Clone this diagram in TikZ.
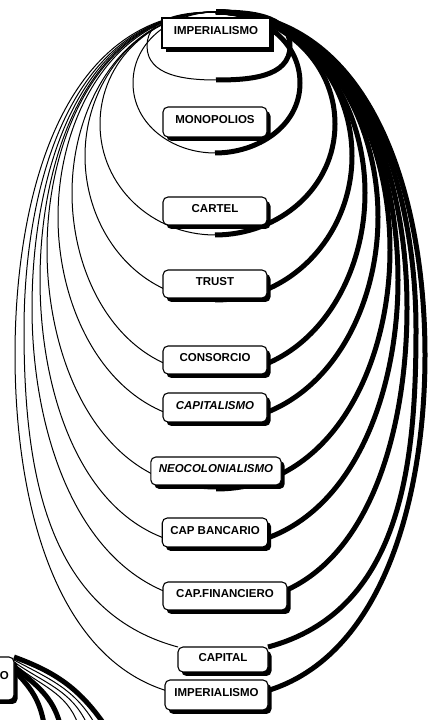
\documentclass[tikz,border=0pt]{standalone}
\usepackage{fontspec}
\setmainfont{Liberation Sans}
\usetikzlibrary{shapes.geometric, shadows, backgrounds, positioning}

\begin{document}
\begin{tikzpicture}[x=1pt, y=1pt,
    concept/.style={rectangle, draw, line width=1.1pt, rounded corners=5pt, fill=white, outer sep=0pt,
        font=\bfseries\fontsize{11.5}{12}\selectfont, minimum width=104pt, minimum height=28pt,
        inner xsep=8pt, text height=8.5pt, text depth=5pt,
        drop shadow={shadow xshift=3.5pt, shadow yshift=-4pt, fill=black, opacity=1}},
    slanted/.style={font=\bfseries\itshape\fontsize{11.5}{12}\selectfont},
    leftline/.style={line width=1pt},
    rightline/.style={line width=5pt}]
    \useasboundingbox (0,0) rectangle (428,720);

    \node [concept, sharp corners, minimum width=108pt, minimum height=30pt] (imp) at (216,687) {IMPERIALISMO};
    \node [concept, minimum height=30pt, below=59pt of imp, xshift=-1pt] (mono) {MONOPOLIOS};
    \node [concept, below=60pt of mono] (cartel) {CARTEL};
    \node [concept, below=45pt of cartel] (trust) {TRUST};
    \node [concept, below=48pt of trust] (consorcio) {CONSORCIO};
    \node [concept, slanted, minimum height=29pt, below=19pt of consorcio] (capitalismo) {CAPITALISMO};
    \node [concept, slanted, below=35pt of capitalismo, xshift=1pt] (neo) {NEOCOLONIALISMO};
    \node [concept, minimum height=29pt, below=33pt of neo, xshift=-1pt] (bancario) {CAP BANCARIO};
    \node [concept, minimum width=124pt, below=35pt of bancario, xshift=10pt] (financiero) {CAP.FINANCIERO};
    \node [concept, minimum width=90pt, minimum height=25pt, below=37pt of financiero, xshift=-2pt] (capital) {CAPITAL};
    \node [concept, minimum width=103pt, minimum height=30pt, below=8pt of capital, xshift=-6.5pt] (impfin) {IMPERIALISMO};
    \node [concept, anchor=east, minimum width=50pt, minimum height=43pt] (frag) at (14,41.5) {};
    \node [font=\bfseries\fontsize{11.5}{12}\selectfont, anchor=east, inner sep=0pt] (fragtext) at ([xshift=-5pt,yshift=3pt]frag.east) {O};

    \begin{scope}[on background layer]
    \coordinate (apex) at ([yshift=6pt]imp.north);
    \coordinate (loop) at (216,640);
    % left half thin, right half heavy
    \draw[leftline] (apex) to[out=180,in=90] (147,674) to[out=-90,in=180] (loop);
    \draw[rightline] (loop) to[out=0,in=-90] (290,674) to[out=90,in=0] (apex);
    \draw[leftline] (apex) to[out=180,in=90] (133,637) to[out=-90,in=180] ([yshift=-16pt]mono.south);
    \draw[rightline] ([yshift=-16pt]mono.south) to[out=0,in=-90] (300,637) to[out=90,in=0] (apex);
    \draw[leftline] (apex) to[out=180,in=90] (100,596) to[out=-90,in=180] ([yshift=-10pt]cartel.south);
    \draw[rightline] ([yshift=-10pt]cartel.south) to[out=0,in=-90] (335,596) to[out=90,in=0] (apex);
    \draw[leftline] (apex) to[out=180,in=90] (85,564) to[out=-90,in=180] ([yshift=-2pt]trust.south);
    \draw[rightline] ([yshift=-2pt]trust.south) to[out=0,in=-90] (352,564) to[out=90,in=0] (apex);
    \draw[leftline] (apex) to[out=180,in=90] (72,527) to[out=-90,in=180] (consorcio.south);
    \draw[rightline] (consorcio.south) to[out=0,in=-90] (365,527) to[out=90,in=0] (apex);
    \draw[leftline] (apex) to[out=180,in=90] (58,503) to[out=-90,in=180] (capitalismo.south);
    \draw[rightline] (capitalismo.south) to[out=0,in=-90] (378,503) to[out=90,in=0] (apex);
    \draw[leftline] (apex) to[out=180,in=90] (47,470) to[out=-90,in=180] ([yshift=-4pt]neo.south);
    \draw[rightline] ([yshift=-4pt]neo.south) to[out=0,in=-90] (390,470) to[out=90,in=0] (apex);
    \draw[leftline] (apex) to[out=180,in=90] (40,440) to[out=-90,in=180] (bancario.south);
    \draw[rightline] (bancario.south) to[out=0,in=-90] (398,440) to[out=90,in=0] (apex);
    \draw[leftline] (apex) to[out=180,in=90] (32,412) to[out=-90,in=180] ([yshift=7pt]financiero.south);
    \draw[rightline] ([yshift=7pt]financiero.south) to[out=0,in=-90] (407,412) to[out=90,in=0] (apex);
    \draw[leftline] (apex) to[out=180,in=90] (24,390) to[out=-90,in=165] (capital.north west);
    \draw[rightline] (capital.north east) to[out=15,in=-90] (416,390) to[out=90,in=0] (apex);
    \draw[leftline] (apex) to[out=180,in=90] (15,365) to[out=-90,in=180] ([yshift=12pt]impfin.south);
    \draw[rightline] ([yshift=12pt]impfin.south) to[out=0,in=-90] (425,365) to[out=90,in=0] (apex);

    % second chart, cut off at the page edge
    \coordinate (fa) at (104,-4);
    \coordinate (fb) at (95,-4);
    \coordinate (fc) at (87,-4);
    \coordinate (fd) at (78,-4);
    \coordinate (fe) at (44,-4);
    \coordinate (ff) at (60,-4);
    \draw[rightline] (frag.north east) to[out=-20,in=125] (fa);
    \draw[leftline] ([yshift=-3pt]frag.north east) to[out=-28,in=120] (fb);
    \draw[leftline] ([yshift=-5pt]frag.north east) to[out=-35,in=115] (fc);
    \draw[leftline] ([yshift=-7pt]frag.north east) to[out=-40,in=110] (fd);
    \draw[rightline] ([yshift=8pt]frag.east) to[out=-45,in=100] (fe);
    \draw[rightline] ([yshift=12pt]frag.east) to[out=-40,in=105] (ff);
    \end{scope}
\end{tikzpicture}
\end{document}
